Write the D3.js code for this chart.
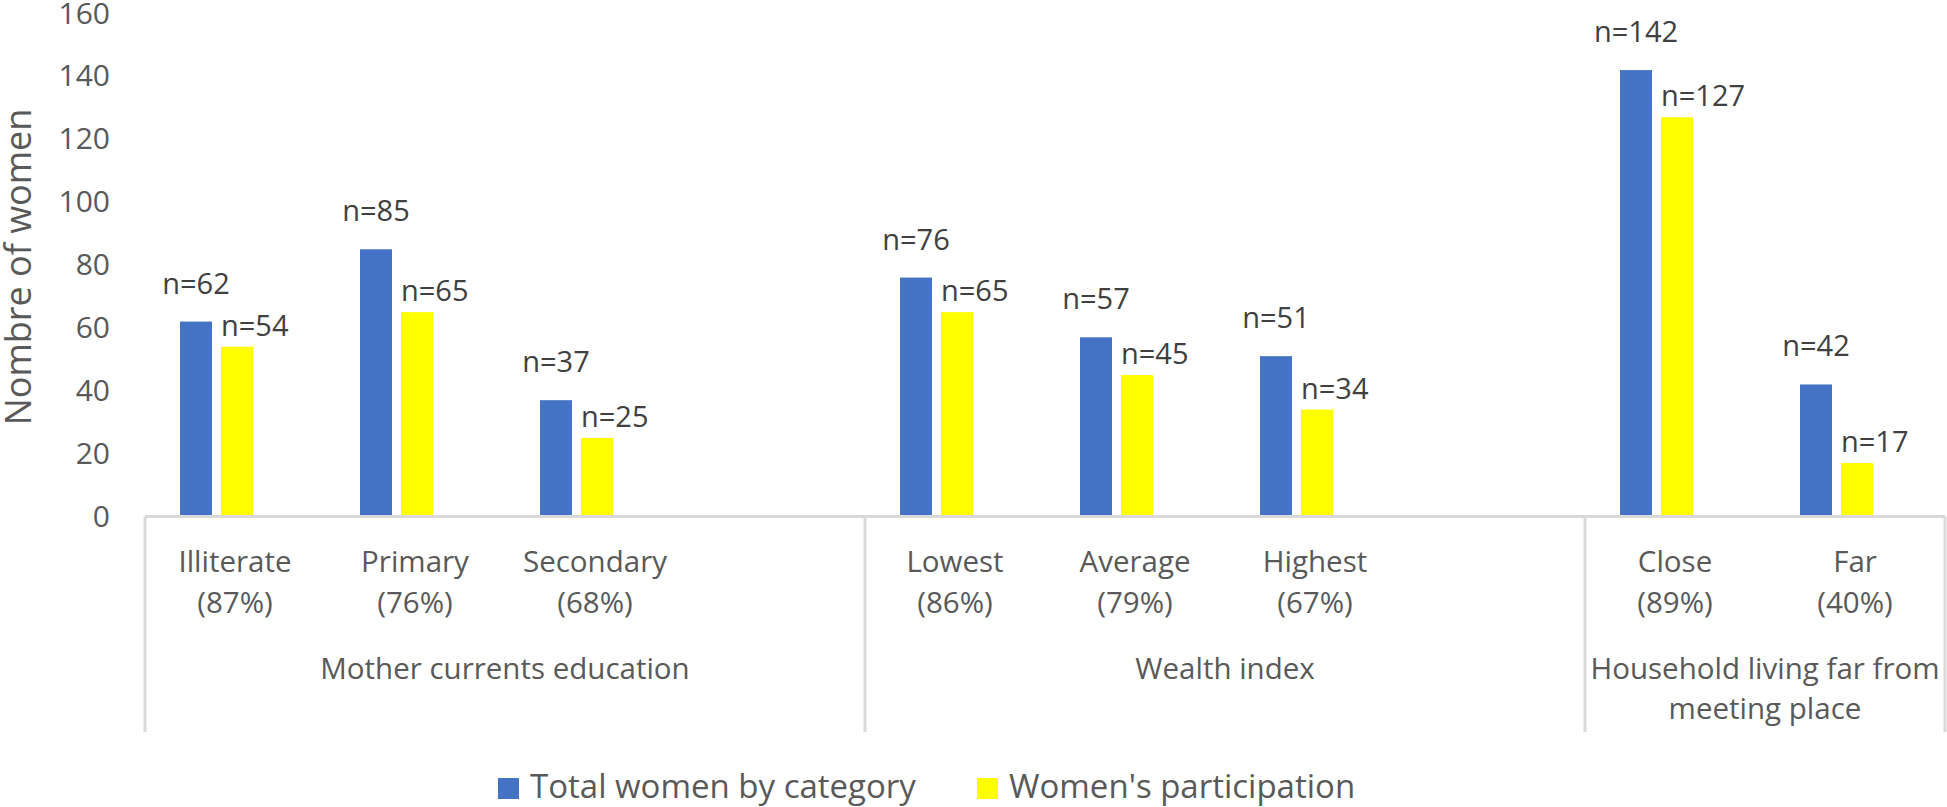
<!DOCTYPE html>
<html>
<head>
<meta charset="utf-8">
<script src="https://cdn.jsdelivr.net/npm/d3@7/dist/d3.min.js"></script>
<style>
  html, body { margin: 0; padding: 0; background: #ffffff; }
  svg { display: block; font-family: "Open Sans", "Noto Sans", sans-serif; }
</style>
</head>
<body>
<svg id="chart" width="1947" height="807"></svg>
<script>
// ---- data ----
const categories = ["Illiterate", "Primary", "Secondary", "", "Lowest", "Average", "Highest", "", "Close", "Far"];
const percentLabels = ["(87%)", "(76%)", "(68%)", "", "(86%)", "(79%)", "(67%)", "", "(89%)", "(40%)"];
const totalWomen = [62, 85, 37, null, 76, 57, 51, null, 142, 42];
const participation = [54, 65, 25, null, 65, 45, 34, null, 127, 17];
const groupNames = [["Mother currents education"], ["Wealth index"], ["Household living far from", "meeting place"]];
const groupSpans = [4, 4, 2];
const seriesNames = ["Total women by category", "Women's participation"];
const yTicks = [0, 20, 40, 60, 80, 100, 120, 140, 160];

// ---- layout ----
const plotLeft = 145, plotRight = 1945, plotTop = 13.5, plotBottom = 516.5;
const frameBottom = 732;
const barShift = -18.5;
const colors = ["#4472C4", "#FFFF00"];
const axisGray = "#d9d9d9";
const textGray = "#595959";
const labelDark = "#404040";

const svg = d3.select("#chart");

const x = d3.scaleBand().domain(d3.range(categories.length)).range([plotLeft, plotRight]).padding(0);
const xs = d3.scaleBand().domain([0, 1]).range([-36.5, 36.5]).paddingInner(0.2195).paddingOuter(0);
const y = d3.scaleLinear().domain([0, 160]).range([plotBottom, plotTop]);

const seriesData = [totalWomen, participation];

// y axis
const yAxis = d3.axisLeft(y).tickValues(yTicks).tickSize(0).tickPadding(35);
const yG = svg.append("g").attr("transform", `translate(${plotLeft},0)`).call(yAxis);
yG.select(".domain").remove();
yG.selectAll("text")
  .style("font-family", '"Open Sans", sans-serif')
  .style("font-size", "30px")
  .attr("fill", textGray);

// y title
svg.append("text")
  .attr("transform", `translate(31,267) rotate(-90)`)
  .attr("text-anchor", "middle")
  .style("font-size", "36px")
  .attr("fill", textGray)
  .text("Nombre of women");

const barLeft = (s, i) => x(i) + x.bandwidth() / 2 + barShift + xs(s);

// bars
seriesData.forEach((vals, s) => {
  const g = svg.append("g");
  vals.forEach((v, i) => {
    if (v == null) return;
    g.append("rect")
      .attr("x", barLeft(s, i))
      .attr("y", y(v))
      .attr("width", xs.bandwidth())
      .attr("height", y(0) - y(v))
      .attr("fill", colors[s]);
  });
});

// value labels
seriesData.forEach((vals, s) => {
  vals.forEach((v, i) => {
    if (v == null) return;
    const bx = barLeft(s, i);
    const t = svg.append("text")
      .style("font-size", "29px")
      .attr("fill", labelDark)
      .text("n=" + v);
    if (s === 0) {
      t.attr("x", bx + xs.bandwidth() / 2).attr("y", y(v) - 28).attr("text-anchor", "middle");
    } else {
      t.attr("x", bx).attr("y", y(v) - 11).attr("text-anchor", "start");
    }
  });
});

// category axis frame
svg.append("line")
  .attr("x1", plotLeft).attr("x2", plotRight)
  .attr("y1", plotBottom).attr("y2", plotBottom)
  .attr("stroke", axisGray).attr("stroke-width", 3);

let startIdx = 0;
const boundaries = [0];
groupSpans.forEach(sp => { startIdx += sp; boundaries.push(startIdx); });
const edgeX = b => b < categories.length ? x(b) : x(categories.length - 1) + x.bandwidth();
boundaries.forEach(b => {
  const bx = edgeX(b);
  svg.append("line")
    .attr("x1", bx).attr("x2", bx)
    .attr("y1", plotBottom).attr("y2", frameBottom)
    .attr("stroke", axisGray).attr("stroke-width", 3);
});

// category labels
categories.forEach((c, i) => {
  if (!c) return;
  const cx = x(i) + x.bandwidth() / 2;
  svg.append("text").attr("x", cx).attr("y", 571.5).attr("text-anchor", "middle")
    .style("font-size", "29.5px").attr("fill", textGray).text(c);
  svg.append("text").attr("x", cx).attr("y", 613).attr("text-anchor", "middle")
    .style("font-size", "29.5px").attr("fill", textGray).text(percentLabels[i]);
});

// group labels
groupNames.forEach((lines, gi) => {
  const x0 = edgeX(boundaries[gi]);
  const x1 = edgeX(boundaries[gi + 1]);
  lines.forEach((ln, li) => {
    svg.append("text").attr("x", (x0 + x1) / 2).attr("y", 679 + li * 39.5)
      .attr("text-anchor", "middle")
      .style("font-size", "29.5px").attr("fill", textGray).text(ln);
  });
});

// legend
const legendX = [498, 977];
seriesNames.forEach((nm, s) => {
  svg.append("rect").attr("x", legendX[s]).attr("y", 778).attr("width", 21).attr("height", 21).attr("fill", colors[s]);
  svg.append("text").attr("x", legendX[s] + 32).attr("y", 797.5)
    .style("font-size", "33px").attr("fill", textGray).text(nm);
});
</script>
</body>
</html>
